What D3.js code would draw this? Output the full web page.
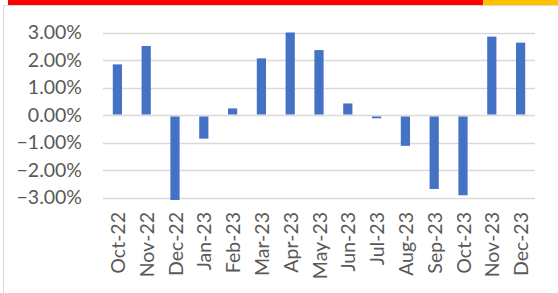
<!DOCTYPE html>
<html>
<head>
<meta charset="utf-8">
<script src="https://cdn.jsdelivr.net/npm/d3@7"></script>
<style>
  html, body { margin: 0; padding: 0; background: #fff; }
  svg { display: block; }
</style>
</head>
<body>
<div id="chart"></div>
<script>
"use strict";
const months = ['Oct-22', 'Nov-22', 'Dec-22', 'Jan-23', 'Feb-23', 'Mar-23', 'Apr-23',
  'May-23', 'Jun-23', 'Jul-23', 'Aug-23', 'Sep-23', 'Oct-23', 'Nov-23', 'Dec-23'];
// monthly change, in percent
const changes = [1.84, 2.51, -3.09, -0.86, 0.24, 2.06, 3.00,
  2.36, 0.42, -0.12, -1.12, -2.69, -2.92, 2.85, 2.63];
const yTicks = [3, 2, 1, 0, -1, -2, -3];

const W = 558, H = 293;
const svg = d3.select('#chart').append('svg')
  .attr('width', W)
  .attr('height', H);

// colour strip on top + frame of the chart area
svg.append('rect').attr('x', 8).attr('y', 0).attr('width', 475).attr('height', 5).attr('fill', '#ff0000');
svg.append('rect').attr('x', 483).attr('y', 0).attr('width', W - 483).attr('height', 5).attr('fill', '#ffc000');
svg.append('rect')
  .attr('x', 3.5).attr('y', 5.5)
  .attr('width', W + 10).attr('height', H + 10)
  .attr('fill', 'none')
  .attr('stroke', '#d9d9d9')
  .attr('stroke-width', 1);

const x = d3.scaleBand()
  .domain(months)
  .range([103, 535])
  .paddingInner(0.68)
  .paddingOuter(0.34);

const y = d3.scaleLinear()
  .domain([-3, 3])
  .range([197.5, 32.5]);

// gridlines
svg.append('g')
  .attr('class', 'grid')
  .selectAll('line')
  .data(yTicks)
  .enter().append('line')
  .attr('x1', 103)
  .attr('x2', 535)
  .attr('y1', d => Math.round(y(d)) + 0.5)
  .attr('y2', d => Math.round(y(d)) + 0.5)
  .style('stroke', '#d9d9d9')
  .style('stroke-width', '1.3px');

// bars
svg.append('g')
  .attr('class', 'bars')
  .selectAll('rect')
  .data(changes)
  .enter().append('rect')
  .attr('x', (d, i) => x(months[i]))
  .attr('width', x.bandwidth())
  .attr('y', d => d >= 0 ? y(d) : y(0) + 1.5)
  .attr('height', d => d >= 0 ? y(0) - 0.5 - y(d) : y(d) - y(0) - 1.5)
  .style('fill', '#4472c4');

// y axis labels
const yAxis = d3.axisLeft(y)
  .tickValues(yTicks)
  .tickSize(0)
  .tickPadding(0)
  .tickFormat(d => d3.format('.2f')(d) + '%');
const yg = svg.append('g')
  .attr('transform', 'translate(82,0)')
  .call(yAxis);
yg.select('.domain').remove();
yg.selectAll('text')
  .style('font-family', 'Lato, sans-serif')
  .style('font-size', '19.5px')
  .style('fill', '#595959');

// x axis labels, rotated
const xAxis = d3.axisBottom(x).tickSize(0).tickPadding(0);
const xg = svg.append('g')
  .attr('transform', 'translate(0,212)')
  .call(xAxis);
xg.select('.domain').remove();
xg.selectAll('text')
  .attr('transform', 'rotate(-90)')
  .attr('text-anchor', 'end')
  .attr('dominant-baseline', 'central')
  .attr('x', 0)
  .attr('y', 0)
  .attr('dy', null)
  .style('font-family', 'Lato, sans-serif')
  .style('font-size', '19.5px')
  .style('fill', '#595959');
</script>
</body>
</html>
